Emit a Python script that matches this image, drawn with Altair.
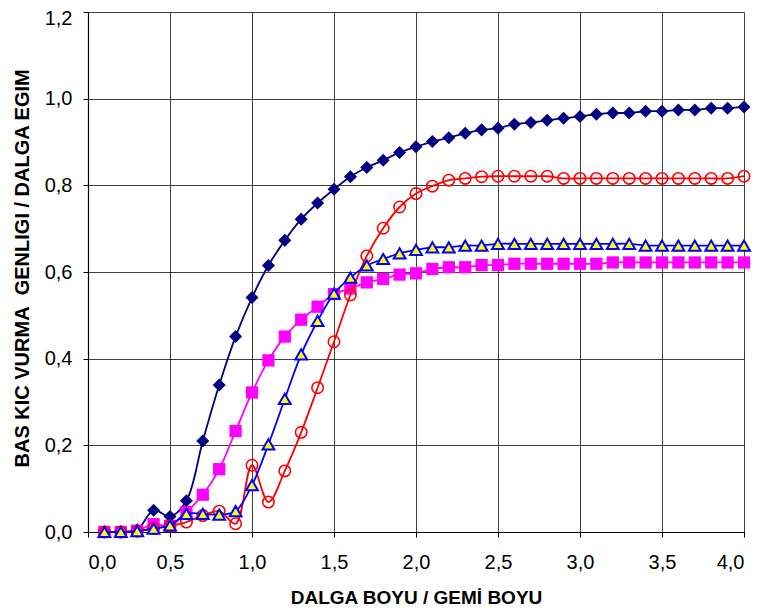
import altair as alt
import pandas as pd

x_vals = [0.1, 0.2, 0.3, 0.4, 0.5, 0.6, 0.7, 0.8, 0.9, 1.0,
          1.1, 1.2, 1.3, 1.4, 1.5, 1.6, 1.7, 1.8, 1.9, 2.0,
          2.1, 2.2, 2.3, 2.4, 2.5, 2.6, 2.7, 2.8, 2.9, 3.0,
          3.1, 3.2, 3.3, 3.4, 3.5, 3.6, 3.7, 3.8, 3.9, 4.0]

navy_vals = [0.0, 0.0, 0.005, 0.050, 0.036, 0.072, 0.210, 0.339, 0.451, 0.541,
             0.615, 0.673, 0.722, 0.759, 0.791, 0.820, 0.841, 0.858, 0.876, 0.889,
             0.901, 0.910, 0.920, 0.928, 0.932, 0.941, 0.945, 0.950, 0.955, 0.959,
             0.964, 0.967, 0.967, 0.971, 0.971, 0.974, 0.974, 0.978, 0.978, 0.981]

magenta_vals = [0.0, 0.0, 0.003, 0.018, 0.014, 0.046, 0.086, 0.145, 0.233, 0.322,
                0.396, 0.451, 0.490, 0.520, 0.549, 0.562, 0.576, 0.584, 0.594, 0.597,
                0.607, 0.611, 0.611, 0.616, 0.616, 0.619, 0.619, 0.619, 0.619, 0.619,
                0.619, 0.622, 0.622, 0.622, 0.622, 0.622, 0.622, 0.622, 0.622, 0.622]

blue_vals = [0.0, 0.0, 0.002, 0.008, 0.015, 0.042, 0.042, 0.040, 0.048, 0.108,
             0.202, 0.307, 0.410, 0.487, 0.550, 0.587, 0.615, 0.630, 0.643, 0.651,
             0.657, 0.657, 0.661, 0.661, 0.665, 0.665, 0.665, 0.665, 0.665, 0.665,
             0.665, 0.665, 0.665, 0.661, 0.661, 0.661, 0.661, 0.661, 0.661, 0.661]

red_vals = [0.0, 0.0, 0.002, 0.008, 0.014, 0.023, 0.038, 0.048, 0.019, 0.154,
            0.069, 0.141, 0.230, 0.333, 0.439, 0.547, 0.637, 0.701, 0.750, 0.781,
            0.798, 0.812, 0.816, 0.820, 0.821, 0.821, 0.821, 0.821, 0.816, 0.816,
            0.816, 0.816, 0.816, 0.816, 0.816, 0.816, 0.816, 0.816, 0.816, 0.821]

x_ticks = [0.0, 0.5, 1.0, 1.5, 2.0, 2.5, 3.0, 3.5, 4.0]
y_ticks = [0.0, 0.2, 0.4, 0.6, 0.8, 1.0, 1.2]

x_title = "DALGA BOYU / GEMİ BOYU"
y_title = "BAS KIC VURMA\u00a0\u00a0GENLIGI / DALGA EGIM"

FONT = "Liberation Sans"

x_enc = alt.X("x:Q",
              scale=alt.Scale(domain=[0, 4], nice=False, zero=False),
              axis=alt.Axis(values=x_ticks, format=".1f",
                            labelExpr="replace(datum.label, '.', ',')",
                            labelFontSize=20,
                            title=x_title, titleFontSize=19,
                            titleY=71, titleBaseline="alphabetic",
                            labelPadding=15))
y_enc = alt.Y("y:Q",
              scale=alt.Scale(domain=[0, 1.2], nice=False),
              axis=alt.Axis(values=y_ticks, format=".1f",
                            labelExpr="replace(datum.label, '.', ',')",
                            labelFontSize=20,
                            labelOffset={"condition": {"test": "datum.value > 1.1", "value": 6}, "value": 0},
                            title=y_title, titleFontSize=20, titleAngle=270, titleAlign="left",
                            titleBaseline="alphabetic", titleX=-60, titleY=455,
                            labelPadding=11))


def series(vals, line_color, shape, size, fill, stroke, stroke_width, filled):
    df = pd.DataFrame({"x": x_vals, "y": vals})
    base = alt.Chart(df).encode(x=x_enc, y=y_enc)
    line = base.mark_line(color=line_color, strokeWidth=1.8,
                          interpolate="catmull-rom")
    pt_kwargs = dict(shape=shape, size=size, opacity=1, strokeWidth=stroke_width,
                     filled=filled)
    if filled:
        pt_kwargs["fill"] = fill
        if stroke:
            pt_kwargs["stroke"] = stroke
    else:
        pt_kwargs["stroke"] = stroke
        pt_kwargs["fill"] = "transparent"
    pts = base.mark_point(**pt_kwargs)
    return line + pts


navy = series(navy_vals, "#000080", "diamond", 170, "#000080", None, 0, True)
magenta = series(magenta_vals, "#FF00FF", "square", 150, "#FF00FF", None, 0, True)
red = series(red_vals, "#FF0000", "circle", 130, None, "#FF0000", 1.6, False)
blue = series(blue_vals, "#0000FF", "triangle-up", 140, "#FFFF00", "#0000FF", 2, True)

chart = alt.layer(navy, magenta, red, blue).properties(
    width=656, height=520,
    autosize=alt.AutoSizeParams(type="none"),
    padding={"left": 80, "top": 4, "right": 9, "bottom": 76},
    background="white",
).configure_view(strokeWidth=0).configure_axis(
    labelFont=FONT, labelColor="#000000",
    titleFont=FONT, titleFontWeight="bold", titleColor="#000000",
    domainColor="#000000", domainWidth=1.2,
    tickColor="#000000", tickSize=5, tickWidth=1,
    gridColor="#000000", gridOpacity=0.75, gridWidth=1,
    grid=True,
)

chart.save("out.html", embed_options={"renderer": "svg", "actions": False})
